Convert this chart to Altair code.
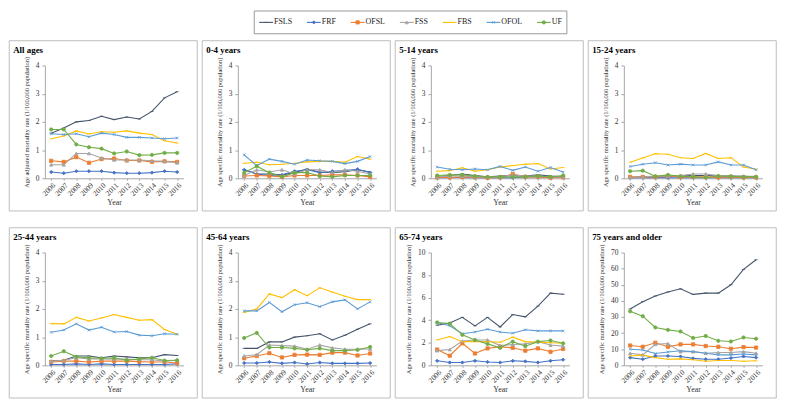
import altair as alt
import pandas as pd

SERIF = "Liberation Serif"
YEARS = list(range(2006, 2017))
SERIES = ["FSLS", "FRF", "OFSL", "FSS", "FBS", "OFOL", "UF"]
COLORS = ["#44546A", "#4472C4", "#ED7D31", "#A5A5A5", "#FFC000", "#5B9BD5", "#70AD47"]
SHAPES = ["M-1,0H1", "diamond", "square", "triangle-up", "M-1,0H1",
          "M-0.8,-0.8L0.8,0.8M-0.8,0.8L0.8,-0.8", "circle"]

all_ages = {
    "FSLS": [1.60, 1.78, 2.00, 2.05, 2.20, 2.08, 2.17, 2.10, 2.37, 2.85, 3.07],
    "FRF":  [0.22, 0.18, 0.25, 0.25, 0.25, 0.20, 0.18, 0.18, 0.20, 0.25, 0.22],
    "OFSL": [0.62, 0.58, 0.75, 0.55, 0.68, 0.70, 0.63, 0.63, 0.58, 0.60, 0.58],
    "FSS":  [0.48, 0.48, 0.88, 0.88, 0.72, 0.65, 0.65, 0.65, 0.62, 0.60, 0.55],
    "FBS":  [1.40, 1.50, 1.68, 1.57, 1.65, 1.63, 1.68, 1.60, 1.55, 1.33, 1.25],
    "OFOL": [1.58, 1.55, 1.58, 1.47, 1.60, 1.55, 1.45, 1.45, 1.43, 1.40, 1.43],
    "UF":   [1.73, 1.73, 1.20, 1.10, 1.05, 0.88, 0.95, 0.82, 0.83, 0.90, 0.90],
}
age_0_4 = {
    "FSLS": [0.30, 0.15, 0.15, 0.12, 0.20, 0.33, 0.22, 0.20, 0.23, 0.30, 0.22],
    "FRF":  [0.30, 0.15, 0.10, 0.12, 0.25, 0.30, 0.20, 0.25, 0.27, 0.32, 0.20],
    "OFSL": [0.08, 0.10, 0.08, 0.05, 0.10, 0.10, 0.10, 0.12, 0.12, 0.10, 0.05],
    "FSS":  [0.10, 0.30, 0.22, 0.30, 0.15, 0.30, 0.30, 0.20, 0.30, 0.25, 0.15],
    "FBS":  [0.53, 0.57, 0.48, 0.50, 0.53, 0.58, 0.60, 0.60, 0.57, 0.77, 0.68],
    "OFOL": [0.83, 0.45, 0.68, 0.60, 0.50, 0.65, 0.62, 0.60, 0.52, 0.60, 0.77],
    "UF":   [0.20, 0.43, 0.20, 0.05, 0.20, 0.20, 0.08, 0.05, 0.10, 0.10, 0.10],
}
age_5_14 = {
    "FSLS": [0.05, 0.10, 0.15, 0.10, 0.05, 0.08, 0.10, 0.08, 0.12, 0.08, 0.05],
    "FRF":  [0.02, 0.03, 0.03, 0.02, 0.03, 0.02, 0.02, 0.05, 0.05, 0.03, 0.05],
    "OFSL": [0.03, 0.03, 0.05, 0.03, 0.02, 0.03, 0.15, 0.05, 0.05, 0.02, 0.03],
    "FSS":  [0.05, 0.08, 0.08, 0.05, 0.05, 0.05, 0.12, 0.08, 0.08, 0.05, 0.05],
    "FBS":  [0.25, 0.27, 0.37, 0.25, 0.30, 0.40, 0.45, 0.50, 0.52, 0.33, 0.38],
    "OFOL": [0.40, 0.32, 0.30, 0.33, 0.30, 0.42, 0.28, 0.40, 0.25, 0.38, 0.22],
    "UF":   [0.10, 0.12, 0.12, 0.08, 0.05, 0.05, 0.05, 0.05, 0.08, 0.05, 0.10],
}
age_15_24 = {
    "FSLS": [0.02, 0.05, 0.05, 0.05, 0.08, 0.10, 0.10, 0.08, 0.08, 0.07, 0.05],
    "FRF":  [0.02, 0.02, 0.02, 0.02, 0.02, 0.02, 0.02, 0.02, 0.02, 0.02, 0.02],
    "OFSL": [0.05, 0.05, 0.05, 0.08, 0.05, 0.05, 0.05, 0.03, 0.05, 0.03, 0.03],
    "FSS":  [0.03, 0.05, 0.08, 0.08, 0.10, 0.15, 0.15, 0.10, 0.08, 0.07, 0.07],
    "FBS":  [0.57, 0.72, 0.87, 0.85, 0.73, 0.70, 0.88, 0.70, 0.73, 0.40, 0.32],
    "OFOL": [0.42, 0.50, 0.55, 0.47, 0.50, 0.47, 0.47, 0.58, 0.47, 0.47, 0.30],
    "UF":   [0.25, 0.27, 0.07, 0.12, 0.07, 0.05, 0.03, 0.08, 0.07, 0.05, 0.05],
}
age_25_44 = {
    "FSLS": [0.17, 0.18, 0.33, 0.33, 0.27, 0.33, 0.30, 0.27, 0.27, 0.38, 0.35],
    "FRF":  [0.03, 0.03, 0.05, 0.03, 0.05, 0.03, 0.03, 0.03, 0.03, 0.03, 0.05],
    "OFSL": [0.12, 0.15, 0.15, 0.12, 0.15, 0.15, 0.15, 0.13, 0.12, 0.12, 0.08],
    "FSS":  [0.15, 0.18, 0.27, 0.23, 0.23, 0.22, 0.22, 0.20, 0.20, 0.15, 0.18],
    "FBS":  [1.48, 1.47, 1.70, 1.57, 1.68, 1.80, 1.70, 1.60, 1.62, 1.27, 1.10],
    "OFOL": [1.17, 1.25, 1.47, 1.25, 1.35, 1.18, 1.20, 1.07, 1.05, 1.12, 1.10],
    "UF":   [0.33, 0.50, 0.30, 0.27, 0.25, 0.27, 0.18, 0.23, 0.27, 0.17, 0.18],
}
age_45_64 = {
    "FSLS": [0.60, 0.60, 0.83, 0.83, 1.00, 1.05, 1.12, 0.90, 1.07, 1.28, 1.47],
    "FRF":  [0.08, 0.08, 0.12, 0.07, 0.10, 0.05, 0.10, 0.07, 0.07, 0.07, 0.08],
    "OFSL": [0.25, 0.33, 0.43, 0.28, 0.37, 0.38, 0.37, 0.45, 0.45, 0.35, 0.42],
    "FSS":  [0.33, 0.38, 0.72, 0.70, 0.68, 0.57, 0.72, 0.62, 0.57, 0.57, 0.58],
    "FBS":  [1.87, 2.00, 2.53, 2.40, 2.68, 2.47, 2.75, 2.60, 2.45, 2.33, 2.33],
    "OFOL": [1.93, 1.93, 2.23, 1.90, 2.15, 2.22, 2.08, 2.25, 2.32, 2.00, 2.25],
    "UF":   [0.97, 1.15, 0.63, 0.63, 0.60, 0.55, 0.60, 0.52, 0.52, 0.55, 0.65],
}
age_65_74 = {
    "FSLS": [3.55, 3.75, 4.25, 3.50, 4.25, 3.40, 4.50, 4.30, 5.25, 6.40, 6.30],
    "FRF":  [0.40, 0.25, 0.25, 0.40, 0.30, 0.25, 0.40, 0.35, 0.25, 0.40, 0.50],
    "OFSL": [1.40, 0.85, 1.95, 1.05, 1.50, 1.65, 1.55, 1.30, 1.50, 1.20, 1.45],
    "FSS":  [1.30, 1.40, 2.15, 2.25, 2.25, 1.75, 1.85, 1.90, 2.10, 1.80, 1.70],
    "FBS":  [2.25, 2.55, 2.10, 2.10, 2.10, 2.05, 2.50, 2.10, 2.05, 2.00, 1.95],
    "OFOL": [3.80, 3.50, 2.80, 2.95, 3.20, 2.95, 2.85, 3.15, 3.05, 3.05, 3.05],
    "UF":   [3.80, 3.70, 2.70, 2.25, 1.90, 1.55, 2.10, 1.70, 2.10, 2.20, 1.95],
}
age_75_plus = {
    "FSLS": [35.0, 39.5, 43.0, 45.5, 47.5, 44.0, 44.8, 44.8, 50.0, 59.5, 65.5],
    "FRF":  [4.8, 3.8, 5.8, 5.8, 5.5, 4.3, 3.8, 3.8, 4.5, 5.5, 4.8],
    "OFSL": [12.3, 11.5, 14.0, 11.5, 13.0, 13.0, 12.0, 11.5, 10.3, 11.3, 11.0],
    "FSS":  [7.5, 6.5, 13.0, 13.5, 8.5, 8.5, 7.5, 8.0, 8.0, 8.5, 7.5],
    "FBS":  [5.8, 6.3, 4.8, 3.8, 4.0, 3.5, 2.5, 3.0, 3.0, 2.5, 2.8],
    "OFOL": [10.0, 9.5, 7.3, 8.3, 9.0, 8.5, 7.5, 6.5, 6.5, 7.0, 6.5],
    "UF":   [33.5, 30.5, 23.5, 22.0, 21.0, 17.0, 18.2, 15.2, 14.8, 17.3, 16.5],
}

ADJ = "Age adjusted mortality rate (1/100,000 population)"
SPEC = "Age specific mortality rate (1/100,000 population)"
PANELS = [
    ("All ages", all_ages, 4, [0, 1, 2, 3, 4], ADJ),
    ("0-4 years", age_0_4, 4, [0, 1, 2, 3, 4], SPEC),
    ("5-14 years", age_5_14, 4, [0, 1, 2, 3, 4], SPEC),
    ("15-24 years", age_15_24, 4, [0, 1, 2, 3, 4], SPEC),
    ("25-44 years", age_25_44, 4, [0, 1, 2, 3, 4], SPEC),
    ("45-64 years", age_45_64, 4, [0, 1, 2, 3, 4], SPEC),
    ("65-74 years", age_65_74, 10, [0, 2, 4, 6, 8, 10], SPEC),
    ("75 years and older", age_75_plus, 70, [0, 10, 20, 30, 40, 50, 60, 70], SPEC),
]

W, H = 140, 114
BOX = "#BDBDBD"

color_scale = alt.Scale(domain=SERIES, range=COLORS)
shape_scale = alt.Scale(domain=SERIES, range=SHAPES)


def panel(title, data, ymax, yticks, ytitle):
    rows = [{"year": y, "series": s, "value": v}
            for s in SERIES for y, v in zip(YEARS, data[s])]
    df = pd.DataFrame(rows)
    x = alt.X("year:O", scale=alt.Scale(type="point", padding=0.5),
              axis=alt.Axis(title="Year", labelAngle=-45, labelFontSize=7.5,
                            titleFontSize=8, titlePadding=2, tickSize=2,
                            labelPadding=1))
    y = alt.Y("value:Q", scale=alt.Scale(domain=[0, ymax], nice=False),
              axis=alt.Axis(title=ytitle, values=yticks, labelFontSize=7.5,
                            titleFontSize=6.5, tickSize=3, titlePadding=6,
                            labelPadding=3))
    base = alt.Chart(df)
    lines = base.mark_line(strokeWidth=1.1).encode(
        x=x, y=y, color=alt.Color("series:N", scale=color_scale, legend=None))
    points = base.mark_point(filled=True, size=11, opacity=1, strokeWidth=0.8).encode(
        x=x, y=y,
        fill=alt.Fill("series:N", scale=color_scale, legend=None),
        stroke=alt.Stroke("series:N", scale=color_scale, legend=None),
        shape=alt.Shape("series:N", scale=shape_scale, legend=None))
    one = alt.Data(values=[{"k": 1}])
    box = alt.Chart(one).mark_rect(fill="white", fillOpacity=0, stroke=BOX,
                                   strokeWidth=1).encode(
        x=alt.value(-36), x2=alt.value(W + 14),
        y=alt.value(-25), y2=alt.value(H + 33))
    ttl = alt.Chart(one).mark_text(text=title, font=SERIF, fontSize=9,
                                   fontWeight="bold", align="left",
                                   baseline="middle", color="#000").encode(
        x=alt.value(-32), y=alt.value(-16))
    return alt.layer(box, lines, points, ttl).properties(width=W, height=H)


panels = [panel(*p) for p in PANELS]
row1 = alt.hconcat(*panels[:4], spacing=3)
row2 = alt.hconcat(*panels[4:], spacing=3)
grid = alt.vconcat(row1, row2, spacing=15)

# legend built as its own small chart
CHAR_W = {"F": 4.45, "S": 4.45, "L": 4.9, "R": 5.35, "O": 5.8, "B": 5.35, "U": 5.8}
leg = []
pos = 5.0
for s in SERIES:
    tw = sum(CHAR_W.get(c, 5) for c in s)
    leg.append({"series": s, "x0": pos, "x1": pos + 14, "xm": pos + 7, "xt": pos + 15})
    pos += 14 + 1 + tw + 15
LW = pos - 15 + 5
LH = 23
ldf = pd.DataFrame(leg)
lsc = alt.Scale(domain=[0, LW], nice=False, zero=False)
lbase = alt.Chart(ldf)
lrule = lbase.mark_rule(strokeWidth=1.1).encode(
    x=alt.X("x0:Q", scale=lsc, axis=None), x2="x1:Q", y=alt.value(LH / 2),
    color=alt.Color("series:N", scale=color_scale, legend=None))
lpt = lbase.mark_point(filled=True, size=11, opacity=1, strokeWidth=0.8).encode(
    x=alt.X("xm:Q", scale=lsc, axis=None), y=alt.value(LH / 2),
    fill=alt.Fill("series:N", scale=color_scale, legend=None),
    stroke=alt.Stroke("series:N", scale=color_scale, legend=None),
    shape=alt.Shape("series:N", scale=shape_scale, legend=None))
ltxt = lbase.mark_text(align="left", baseline="middle", font=SERIF, fontSize=8,
                       color="#222").encode(
    x=alt.X("xt:Q", scale=lsc, axis=None), y=alt.value(LH / 2), text="series:N")
lbox = alt.Chart(alt.Data(values=[{"k": 1}])).mark_rect(
    fill="white", fillOpacity=0, stroke="#999999", strokeWidth=1).encode(
    x=alt.value(0), x2=alt.value(LW), y=alt.value(0), y2=alt.value(LH))
legend = alt.layer(lbox, lrule, lpt, ltxt).properties(width=LW, height=LH)

chart = alt.vconcat(legend, grid, spacing=5, center=True).properties(
    padding=0, background="white"
).configure_view(stroke=None).configure_axis(
    labelFont=SERIF, titleFont=SERIF, labelColor="#333", titleColor="#333",
    titleFontWeight="normal", domainColor="#A6A6A6", tickColor="#A6A6A6",
    grid=False)

chart.save("out.html", embed_options={"renderer": "svg", "actions": False})
